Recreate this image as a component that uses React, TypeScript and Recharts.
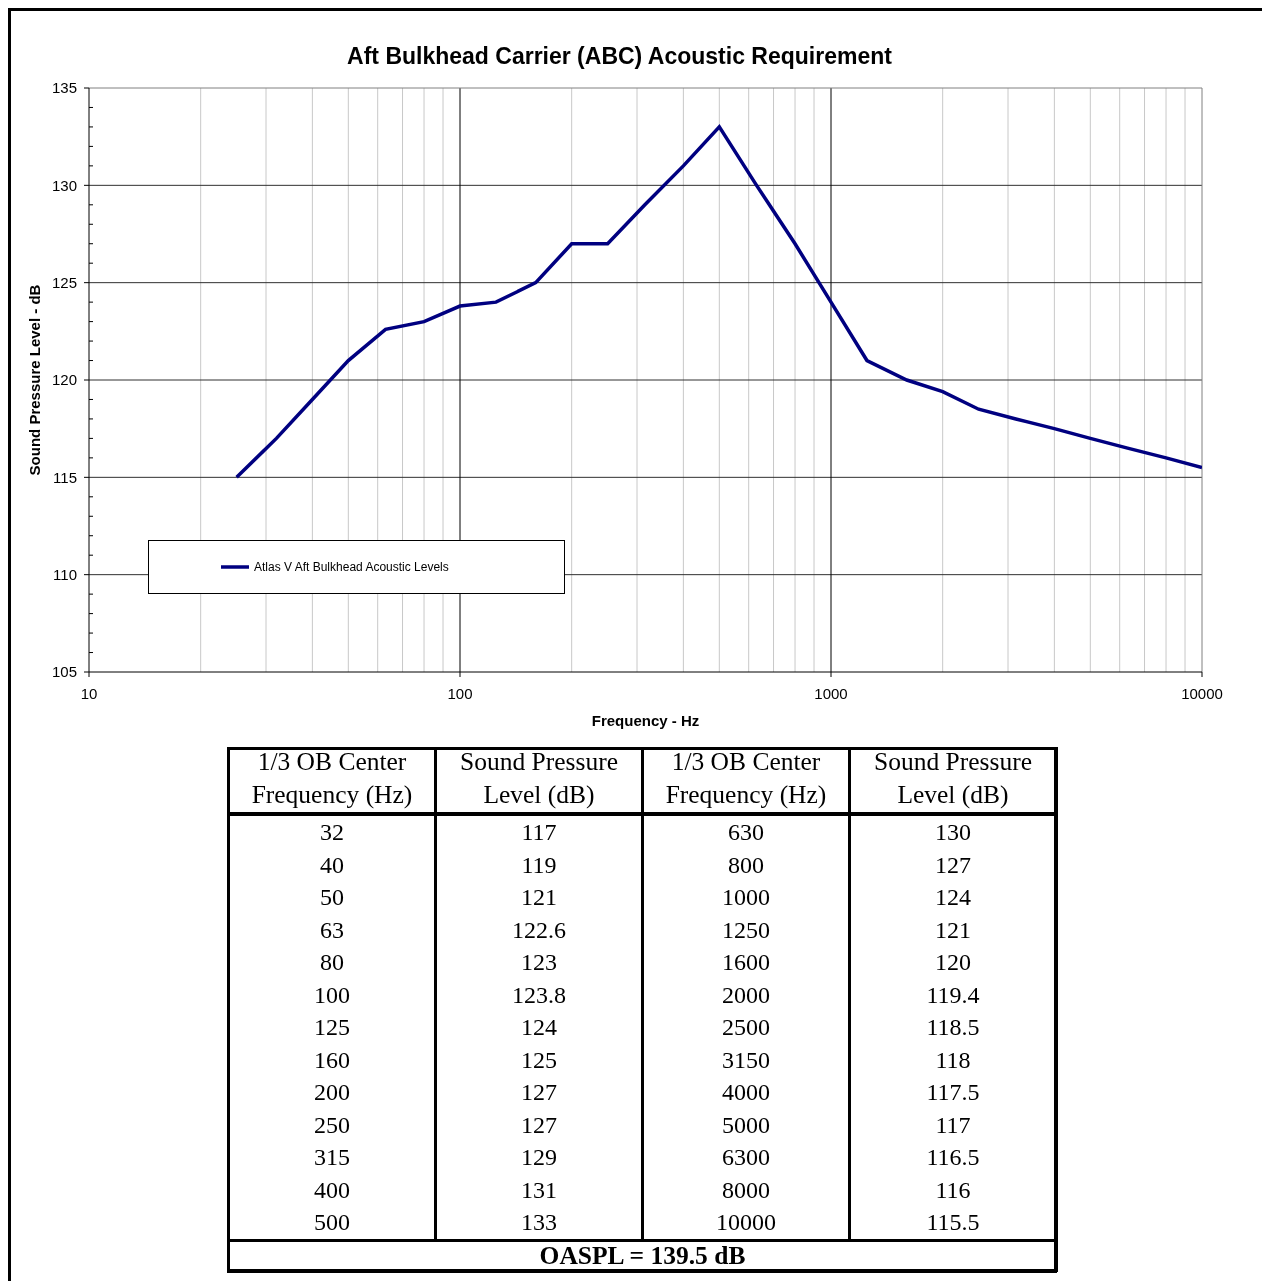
import React from "react";
import {
  LineChart,
  Line,
  XAxis,
  YAxis,
  ReferenceLine,
  Legend,
} from "recharts";

// 1/3 octave band centre frequencies (Hz) and sound pressure levels (dB)
const frequencies = [
  25, 32, 40, 50, 63, 80, 100, 125, 160, 200, 250, 315, 400, 500, 630, 800,
  1000, 1250, 1600, 2000, 2500, 3150, 4000, 5000, 6300, 8000, 10000,
];
const levels = [
  115, 117, 119, 121, 122.6, 123, 123.8, 124, 125, 127, 127, 129, 131, 133,
  130, 127, 124, 121, 120, 119.4, 118.5, 118, 117.5, 117, 116.5, 116, 115.5,
];

const xTicks = [10, 100, 1000, 10000];
const xMajorLines = [100, 1000];
const xMinorLines = [
  20, 30, 40, 50, 60, 70, 80, 90, 200, 300, 400, 500, 600, 700, 800, 900,
  2000, 3000, 4000, 5000, 6000, 7000, 8000, 9000,
];
const yMajorLines = [110, 115, 120, 125, 130];
const yAllTicks = [
  105, 106, 107, 108, 109, 110, 111, 112, 113, 114, 115, 116, 117, 118, 119,
  120, 121, 122, 123, 124, 125, 126, 127, 128, 129, 130, 131, 132, 133, 134,
  135,
];
const yLabelStep = 5;

const title = "Aft Bulkhead Carrier (ABC) Acoustic Requirement";
const seriesName = "Atlas V Aft Bulkhead Acoustic Levels";
const xLabel = "Frequency - Hz";
const yLabel = "Sound Pressure Level - dB";
const tableHeaders = [
  ["1/3 OB Center", "Frequency (Hz)"],
  ["Sound Pressure", "Level (dB)"],
  ["1/3 OB Center", "Frequency (Hz)"],
  ["Sound Pressure", "Level (dB)"],
];
const oasplText = "OASPL = 139.5 dB";

const data = frequencies.map((f, i) => ({ freq: f, spl: levels[i] }));

const sans = "'Liberation Sans', Arial, sans-serif";
const serif = "'Liberation Serif', 'Times New Roman', serif";

const Y_TICK_SIZE = 5;
const Y_TICK_MARGIN = 7;

// major ticks point outward with a label, minor ticks point inward
const YTick = (props: any) => {
  const { x, y, payload } = props;
  const axisX = x + Y_TICK_SIZE + Y_TICK_MARGIN;
  const major = payload.value % yLabelStep === 0;
  if (!major) {
    return <line x1={axisX} y1={y} x2={axisX + 4} y2={y} stroke="#000" />;
  }
  return (
    <g>
      <line x1={axisX - Y_TICK_SIZE} y1={y} x2={axisX} y2={y} stroke="#000" />
      <text
        x={x}
        y={y}
        dy="0.355em"
        textAnchor="end"
        fill="#000"
        fontSize={15}
        fontFamily={sans}
      >
        {payload.value}
      </text>
    </g>
  );
};

const renderLegend = (props: any) => {
  const item = props.payload && props.payload[0];
  if (!item) return null;
  return (
    <div
      style={{
        boxSizing: "border-box",
        width: 417,
        height: 54,
        border: "1px solid #000",
        background: "#fff",
        display: "flex",
        alignItems: "center",
        paddingLeft: 72,
        fontFamily: sans,
        fontSize: 12,
        color: "#000",
      }}
    >
      <svg width={28} height={4} style={{ display: "block" }}>
        <line x1={0} y1={2} x2={28} y2={2} stroke={item.color} strokeWidth={3.5} />
      </svg>
      <span style={{ marginLeft: 5 }}>{item.value}</span>
    </div>
  );
};

const AcousticTable: React.FC = () => {
  const rows = frequencies.slice(1);
  const vals = levels.slice(1);
  const half = Math.ceil(rows.length / 2);
  const cell: React.CSSProperties = {
    width: 204,
    padding: 0,
    textAlign: "center",
    lineHeight: "32.5px",
    height: 32.5,
    fontSize: 24,
  };
  const divider = "3px solid #000";
  return (
    <>
      <table
        style={{
          position: "absolute",
          left: 219,
          top: 739,
          width: 830,
          borderCollapse: "collapse",
          border: divider,
          fontFamily: serif,
          color: "#000",
          tableLayout: "fixed",
        }}
      >
        <tbody>
          <tr style={{ borderBottom: "4px solid #000" }}>
            {tableHeaders.map((h, i) => (
              <td
                key={i}
                style={{
                  ...cell,
                  height: 62,
                  verticalAlign: "top",
                  borderLeft: i > 0 ? divider : undefined,
                }}
              >
                <div
                  style={{
                    height: 62,
                    marginTop: -5,
                    marginBottom: 5,
                    fontSize: 25.5,
                    lineHeight: "33px",
                  }}
                >
                  {h[0]}
                  <br />
                  {h[1]}
                </div>
              </td>
            ))}
          </tr>
          {rows.slice(0, half).map((f, r) => (
            <tr key={f}>
              <td style={cell}>{f}</td>
              <td style={{ ...cell, borderLeft: divider }}>{vals[r]}</td>
              <td style={{ ...cell, borderLeft: divider }}>{rows[r + half]}</td>
              <td style={{ ...cell, borderLeft: divider }}>{vals[r + half]}</td>
            </tr>
          ))}
          <tr>
            <td
              colSpan={4}
              style={{
                textAlign: "center",
                fontWeight: "bold",
                fontSize: 25.5,
                height: 27,
                lineHeight: "27px",
                padding: 0,
                borderTop: divider,
              }}
            >
              {oasplText}
            </td>
          </tr>
        </tbody>
      </table>
      {/* outer box of the table drawn on top so its edges are always crisp */}
      <div
        style={{
          position: "absolute",
          left: 219,
          top: 739,
          width: 830,
          height: 526,
          boxSizing: "border-box",
          border: divider,
          pointerEvents: "none",
        }}
      />
    </>
  );
};

const App: React.FC = () => {
  return (
    <div
      style={{
        position: "relative",
        width: 1246,
        height: 1265,
        background: "#fff",
      }}
    >
      {/* outer page frame, fixed so it never adds scroll overflow */}
      <div
        style={{
          position: "fixed",
          left: 8,
          top: 8,
          width: 1254,
          height: 1273,
          boxSizing: "border-box",
          borderTop: "3px solid #000",
          borderLeft: "3px solid #000",
          pointerEvents: "none",
        }}
      />
      <div
        style={{
          position: "absolute",
          left: 0,
          top: 37,
          width: 1223,
          textAlign: "center",
          fontFamily: sans,
          fontWeight: "bold",
          fontSize: 23,
          lineHeight: "23px",
          color: "#000",
        }}
      >
        {title}
      </div>
      <div style={{ position: "absolute", left: 0, top: 0 }}>
        <LineChart
          width={1252}
          height={730}
          data={data}
          margin={{ top: 80, right: 58, left: 21, bottom: 6 }}
        >
          {xMinorLines.map((f) => (
            <ReferenceLine key={f} x={f} stroke="#c8c8c8" />
          ))}
          {yMajorLines.map((v) => (
            <ReferenceLine key={v} y={v} stroke="#303030" />
          ))}
          {xMajorLines.map((f) => (
            <ReferenceLine key={f} x={f} stroke="#000" />
          ))}
          <ReferenceLine x={xTicks[xTicks.length - 1]} stroke="#808080" />
          <ReferenceLine y={yAllTicks[yAllTicks.length - 1]} stroke="#808080" />
          <XAxis
            dataKey="freq"
            type="number"
            scale="log"
            domain={[10, 10000]}
            allowDataOverflow
            ticks={xTicks}
            interval={0}
            height={60}
            tickSize={5}
            tickMargin={11}
            axisLine={{ stroke: "#000" }}
            tickLine={{ stroke: "#000" }}
            tick={{ fill: "#000", fontSize: 15, fontFamily: sans }}
            label={{
              value: xLabel,
              position: "insideBottom",
              offset: 6,
              fill: "#000",
              fontSize: 15,
              fontWeight: "bold",
              fontFamily: sans,
            }}
          />
          <YAxis
            type="number"
            domain={[105, 135]}
            allowDataOverflow
            ticks={yAllTicks}
            interval={0}
            width={60}
            tickSize={Y_TICK_SIZE}
            tickMargin={Y_TICK_MARGIN}
            axisLine={{ stroke: "#000" }}
            tickLine={false}
            tick={<YTick />}
            label={{
              value: yLabel,
              angle: -90,
              position: "insideLeft",
              offset: 6,
              fill: "#000",
              fontSize: 15,
              fontWeight: "bold",
              fontFamily: sans,
              style: { textAnchor: "middle" },
            }}
          />
          <Legend
            layout="horizontal"
            verticalAlign="middle"
            align="center"
            wrapperStyle={{ left: 140, top: 532, width: 417, height: 54 }}
            content={renderLegend}
          />
          <Line
            type="linear"
            dataKey="spl"
            name={seriesName}
            stroke="#000080"
            strokeWidth={3.5}
            dot={false}
            isAnimationActive={false}
          />
        </LineChart>
      </div>
      <AcousticTable />
    </div>
  );
};

export default App;
